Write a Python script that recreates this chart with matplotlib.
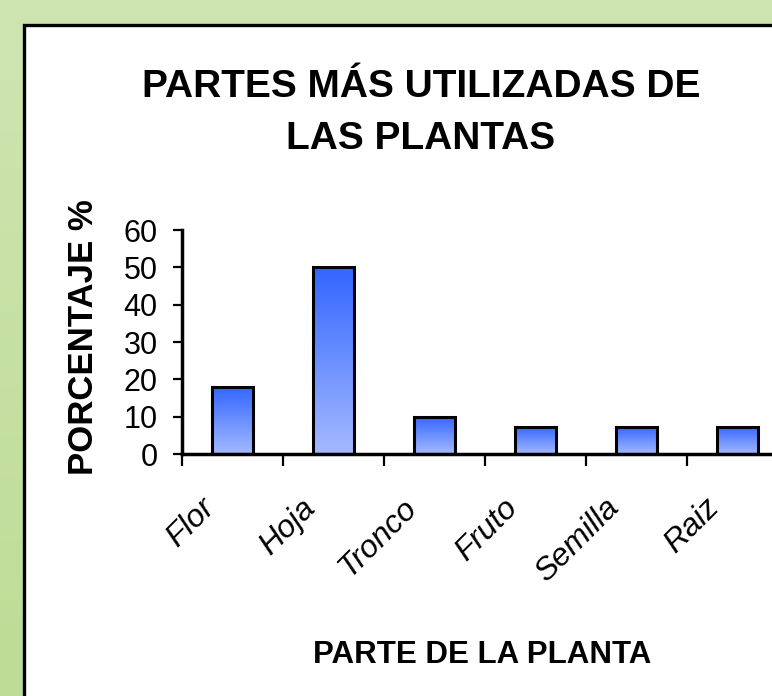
import numpy as np
import matplotlib
matplotlib.use("Agg")
import matplotlib.pyplot as plt
from matplotlib.patches import Rectangle
from matplotlib.colors import LinearSegmentedColormap
from matplotlib.transforms import ScaledTranslation

# data
partes = ['Flor', 'Hoja', 'Tronco', 'Fruto', 'Semilla', 'Raiz']
porcentaje = [18, 50, 10, 7.3, 7.3, 7.3]
y_ticks = [0, 10, 20, 30, 40, 50, 60]

titulo = 'PARTES MÁS UTILIZADAS DE\nLAS PLANTAS'
eje_x = 'PARTE DE LA PLANTA'
eje_y = 'PORCENTAJE %'

plt.rcParams['font.family'] = ['Liberation Sans', 'DejaVu Sans']

fig = plt.figure(figsize=(7.72, 6.96), dpi=100)

# green background + white framed box
bg = fig.add_axes([0, 0, 1, 1], zorder=-5)
bg.set_axis_off()
green = LinearSegmentedColormap.from_list('green', ['#bedc95', '#cee5b2'])
bg.imshow(np.linspace(0, 1, 256).reshape(-1, 1), cmap=green, aspect='auto',
          extent=[0, 1, 0, 1], origin='lower')
bg.add_patch(Rectangle((24 / 772, -0.1), 1.2, 1.1 - 25 / 696, facecolor='white',
                       edgecolor='black', linewidth=2.4))
bg.set_xlim(0, 1)
bg.set_ylim(0, 1)

# main axes (runs past the right edge like the original)
ax = fig.add_axes([182 / 772, 1 - 454 / 696, 606 / 772, 224 / 696])
ax.patch.set_alpha(0)

x = np.arange(len(partes))
bars = ax.bar(x, porcentaje, width=0.41, color='none', edgecolor='black',
              linewidth=2.2, zorder=3)

blue = LinearSegmentedColormap.from_list('blue', ['#a4b9ff', '#3366ff'])
grad = np.linspace(0, 1, 128).reshape(-1, 1)
for b in bars:
    x0, y0 = b.get_x(), b.get_y()
    im = ax.imshow(grad, cmap=blue, aspect='auto', origin='lower',
                   extent=[x0, x0 + b.get_width(), y0, y0 + b.get_height()], zorder=2)
    im.set_clip_path(b)

ax.set_xlim(-0.5, len(partes) - 0.5)
ax.set_ylim(0, 60)
ax.set_yticks(y_ticks)
ax.tick_params(axis='y', direction='out', length=6.5, width=1.6, pad=11,
               labelsize=22)

ax.set_xticks(x)
ax.set_xticklabels(partes, rotation=45, ha='right', va='top',
                   rotation_mode='anchor', fontsize=23, style='italic')
ax.tick_params(axis='x', which='major', length=0, pad=28)
ax.set_xticks(np.arange(len(partes) + 1) - 0.5, minor=True)
ax.tick_params(axis='x', which='minor', direction='out', length=8.6, width=1.6)
shift = ScaledTranslation(-33 / 100, 0, fig.dpi_scale_trans)
for lab in ax.get_xticklabels():
    lab.set_transform(lab.get_transform() + shift)

for s in ['top', 'right']:
    ax.spines[s].set_visible(False)
for s in ['left', 'bottom']:
    ax.spines[s].set_linewidth(2.5)
    ax.spines[s].set_zorder(4)

ax.set_ylabel(eje_y, fontsize=25, fontweight='bold')
ax.yaxis.set_label_coords(-0.1353, 0.52)
ax.set_xlabel(eje_x, fontsize=22.5, fontweight='bold')
ax.xaxis.set_label_coords(0.495, -0.83)

fig.text(421 / 772, 1 - 113 / 696, titulo, ha='center', va='center', fontsize=28,
         fontweight='bold', linespacing=1.55)

plt.savefig('out.png', dpi=100)
